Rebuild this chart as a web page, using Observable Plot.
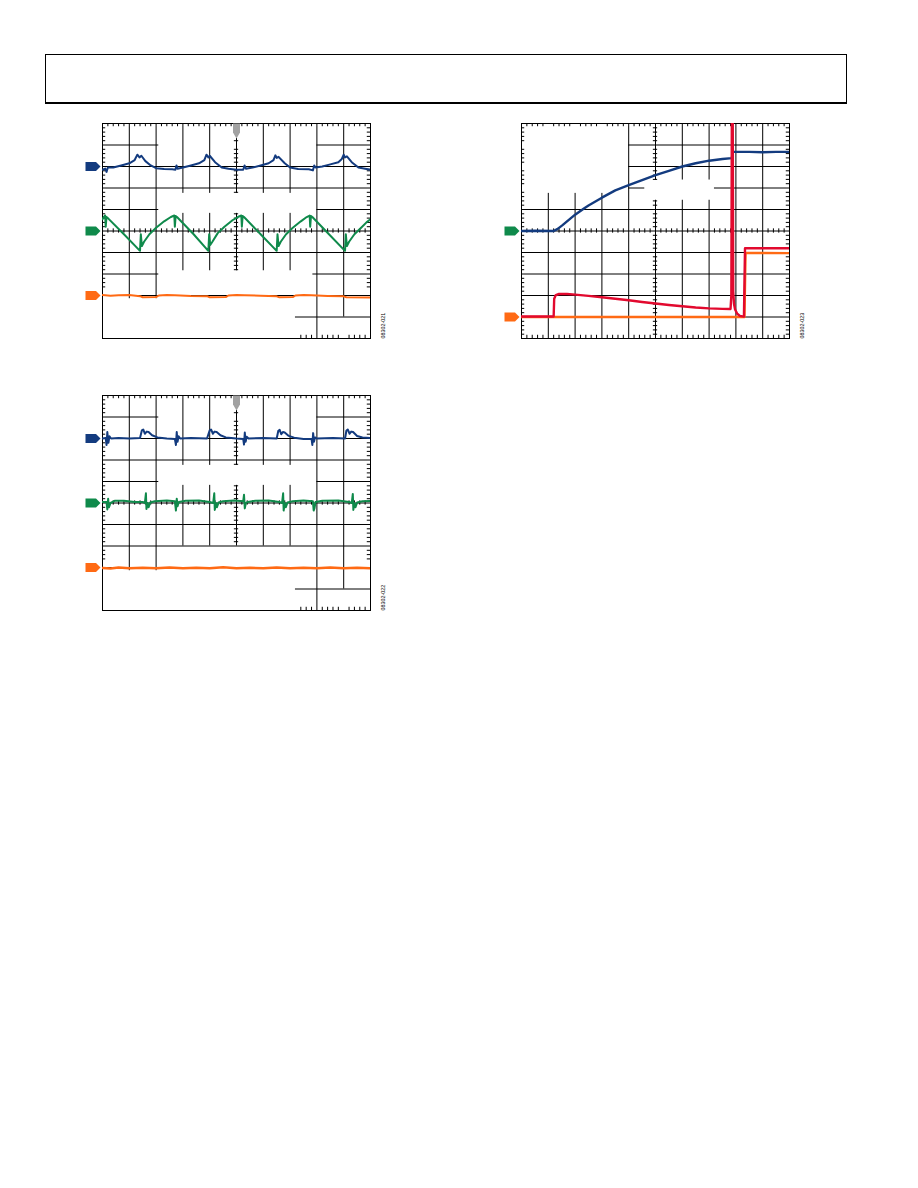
<!DOCTYPE html>
<html><head><meta charset="utf-8">
<script src="https://cdn.jsdelivr.net/npm/d3@7"></script>
<script src="https://cdn.jsdelivr.net/npm/@observablehq/plot@0.6"></script>
<style>
body{margin:0;background:#fff;}
#page{position:relative;width:918px;height:1188px;background:#fff;overflow:hidden;font-family:"Liberation Sans",Arial,sans-serif;}
#hdr{position:absolute;left:45px;top:54px;width:800px;height:47px;border:1px solid #000;border-bottom:2px solid #000;}
.panel{position:absolute;}
</style></head><body>
<div id="page"><div id="hdr"></div>
<div class="panel" id="p1" style="left:80px;top:113px"></div>
<div class="panel" id="p2" style="left:499px;top:113px"></div>
<div class="panel" id="p3" style="left:80px;top:385px"></div>
</div>
<script>
// ---------- data (x, y in scope divisions; y measured from bottom) ----------
const p1Labels = ["08302-021"];
const p2Labels = ["08302-023"];
const p3Labels = ["08302-022"];

const p1Blue = [[0,7.85],[0.1,7.9],[0.15,7.75],[0.2,7.95],[0.4,7.95],[0.7,8.05],[1.0,8.15],[1.2,8.3],[1.3,8.55],[1.38,8.42],[1.45,8.5],[1.6,8.25],[1.8,8.05],[2.0,7.92],[2.3,7.88],[2.6,7.87],[2.72,7.85],[2.76,8.05],[2.8,7.9],[3.0,7.95],[3.3,8.05],[3.6,8.15],[3.8,8.3],[3.88,8.55],[3.95,8.42],[4.0,8.5],[4.2,8.2],[4.45,7.95],[4.7,7.9],[5.0,7.85],[5.25,7.85],[5.3,8.05],[5.35,7.9],[5.6,7.95],[5.9,8.05],[6.2,8.15],[6.38,8.3],[6.45,8.52],[6.5,8.4],[6.57,8.45],[6.8,8.15],[7.0,7.95],[7.3,7.88],[7.7,7.87],[7.85,7.82],[7.9,8.05],[7.95,7.95],[8.2,8.0],[8.5,8.1],[8.8,8.2],[8.93,8.35],[9.0,8.55],[9.05,8.42],[9.12,8.47],[9.3,8.2],[9.55,7.95],[9.8,7.9],[10,7.85]];
const p1Green = [[0,5.55],[0.05,5.65],[0.1,5.72],[0.12,5.2],[0.15,5.65],[0.2,5.6],[0.8,4.85],[1.38,4.1],[1.4,4.08],[1.43,4.85],[1.47,4.3],[1.55,4.5],[1.75,4.85],[2.0,5.15],[2.3,5.45],[2.55,5.65],[2.68,5.72],[2.7,5.2],[2.73,5.7],[2.78,5.65],[3.4,4.85],[3.93,4.1],[3.95,4.08],[3.98,4.85],[4.02,4.35],[4.1,4.5],[4.3,4.9],[4.55,5.2],[4.85,5.5],[5.05,5.65],[5.18,5.72],[5.2,5.2],[5.23,5.7],[5.28,5.65],[5.9,4.85],[6.48,4.1],[6.5,4.08],[6.53,4.85],[6.57,4.3],[6.65,4.5],[6.85,4.85],[7.1,5.15],[7.4,5.45],[7.62,5.65],[7.73,5.72],[7.75,5.2],[7.78,5.7],[7.83,5.65],[8.45,4.85],[9.03,4.1],[9.05,4.08],[9.08,4.85],[9.12,4.3],[9.2,4.5],[9.4,4.85],[9.65,5.15],[9.85,5.4],[10,5.55]];
const p1Orange = [[0,2.02],[0.3,1.99],[0.6,2.01],[1.0,2.02],[1.4,1.97],[1.5,1.92],[2.0,1.93],[2.1,2.0],[2.4,2.02],[2.7,2.01],[3.3,1.98],[3.9,1.97],[4.0,1.92],[4.6,1.93],[4.7,2.0],[5.0,2.02],[5.3,2.01],[5.9,1.99],[6.5,1.96],[6.6,1.92],[7.1,1.93],[7.2,2.0],[7.5,2.02],[7.8,2.01],[8.4,1.98],[9.0,1.96],[9.1,1.92],[10,1.91]];

const p2Blue = [[0,5],[0.5,5.01],[1.2,5],[1.35,5.1],[1.52,5.26],[2.0,5.76],[2.33,6.05],[2.5,6.19],[3.0,6.55],[3.5,6.89],[4.0,7.13],[4.5,7.37],[5.0,7.6],[5.5,7.8],[6.0,8.0],[6.5,8.15],[7.0,8.27],[7.5,8.35],[7.85,8.39],[7.88,8.68],[8.5,8.68],[9.0,8.66],[9.5,8.68],[10,8.68]];
const p2Red = [[0,1.02],[1.2,1.02],[1.22,1.85],[1.28,2.02],[1.4,2.07],[1.7,2.07],[2.0,2.04],[2.5,1.98],[3.0,1.92],[3.5,1.85],[4.0,1.78],[4.5,1.7],[5.0,1.63],[5.5,1.56],[6.0,1.5],[6.5,1.44],[7.0,1.4],[7.5,1.38],[7.8,1.37],[7.83,2.0],[7.85,11],[7.88,11],[7.9,2.2],[7.93,1.6],[7.97,1.35],[8.05,1.15],[8.15,1.05],[8.3,1.02],[8.34,4.2],[9.0,4.2],[10,4.2]];
const p2Orange = [[0,1.0],[2.0,1.0],[4.0,1.0],[6.0,1.0],[8.0,1.0],[8.32,1.0],[8.36,3.98],[9.0,3.98],[10,3.97]];

const p3Blue = [[0,8.0],[0.12,8.02],[0.15,7.7],[0.18,8.3],[0.22,7.8],[0.26,8.1],[0.32,8.0],[0.6,8.02],[1.0,8.0],[1.4,8.02],[1.47,8.38],[1.52,8.42],[1.58,8.22],[1.65,8.32],[1.72,8.3],[1.85,8.15],[2.05,8.05],[2.4,8.0],[2.7,7.98],[2.74,7.7],[2.77,8.3],[2.8,7.85],[2.84,8.1],[2.9,8.0],[3.3,8.02],[3.9,8.0],[4.0,8.38],[4.05,8.42],[4.12,8.22],[4.18,8.32],[4.26,8.3],[4.4,8.15],[4.6,8.05],[5.0,8.0],[5.25,7.98],[5.28,7.72],[5.31,8.28],[5.34,7.85],[5.38,8.08],[5.45,8.0],[6.0,8.02],[6.5,8.0],[6.56,8.36],[6.61,8.4],[6.67,8.2],[6.73,8.3],[6.8,8.28],[6.95,8.12],[7.15,8.04],[7.5,7.98],[7.8,7.98],[7.83,7.7],[7.86,8.25],[7.89,7.85],[7.93,8.05],[8.0,8.0],[8.6,8.02],[9.05,8.0],[9.1,8.36],[9.15,8.42],[9.22,8.22],[9.28,8.32],[9.35,8.3],[9.5,8.12],[9.7,8.05],[10,8.02]];
const p3Green = [[0,5.05],[0.15,5.05],[0.18,4.7],[0.21,5.2],[0.24,4.8],[0.3,5.0],[0.45,5.1],[0.8,5.1],[1.2,5.05],[1.5,5.05],[1.58,5.0],[1.62,5.45],[1.64,4.72],[1.68,5.0],[1.72,4.8],[1.78,5.02],[1.95,5.08],[2.4,5.12],[2.7,5.08],[2.74,4.65],[2.77,5.2],[2.8,4.85],[2.85,5.05],[3.1,5.1],[3.6,5.12],[4.0,5.05],[4.13,5.0],[4.17,5.45],[4.19,4.68],[4.23,5.0],[4.27,4.8],[4.33,5.02],[4.5,5.08],[4.9,5.12],[5.25,5.08],[5.28,5.38],[5.31,4.75],[5.35,5.0],[5.42,5.05],[5.7,5.1],[6.2,5.12],[6.6,5.05],[6.7,5.0],[6.74,5.45],[6.76,4.65],[6.8,5.0],[6.84,4.8],[6.9,5.02],[7.1,5.08],[7.5,5.12],[7.85,5.08],[7.88,4.65],[7.91,4.75],[7.95,5.05],[8.2,5.1],[8.8,5.12],[9.2,5.05],[9.3,5.0],[9.34,5.42],[9.36,4.68],[9.4,5.0],[9.44,4.8],[9.5,5.02],[9.7,5.08],[10,5.1]];
const p3Orange = [[0,1.98],[0.3,1.95],[0.6,2.0],[1.0,1.97],[1.5,1.99],[2.0,1.96],[2.5,2.0],[3.0,1.97],[3.5,1.99],[4.0,1.96],[4.5,2.01],[5.0,1.97],[5.5,1.99],[6.0,1.96],[6.5,2.0],[7.0,1.97],[7.5,1.99],[8.0,1.96],[8.5,2.0],[9.0,1.97],[9.5,1.99],[10,1.97]];

// channel reference markers [level, colour key]
const p1Markers = [[8,"blue"],[5,"green"],[2,"orange"]];
const p2Markers = [[5,"green"],[1,"orange"]];
const p3Markers = [[8,"blue"],[5,"green"],[2,"orange"]];

// graticule segments: horizontal [y, x1, x2], vertical [x, y1, y2]
const p1HGrid = [[9,0,2.1],[9,8,10],[8,0,10],[7,0,10],[6,0,2.1],[6,8,10],[5,0,10],[4,0,10],[3,0,2.1],[3,7.85,10],[2,0,10],[1,7.2,10]];
const p1VGrid = [[1,1.85,10],[2,1.85,10],[3,3.15,5.82],[3,6.75,10],[4,3.15,5.82],[4,6.75,10],[5,3.15,5.82],[5,6.75,9.3],[6,3.15,5.82],[6,6.75,10],[7,3.15,5.82],[7,6.75,10],[8,0,10],[9,1,10]];
const p3HGrid = [[9,0,2.1],[9,8,10],[8,0,10],[7,0,10],[6,0,2.1],[6,8,10],[5,0,10],[4,0,10],[3,0,10],[2,0,10],[1,7.2,10]];
const p3VGrid = [[1,1.85,10],[2,1.85,10],[3,3,5.82],[3,6.75,10],[4,3,5.82],[4,6.75,10],[5,3,5.82],[5,6.75,9.3],[6,3,5.82],[6,6.75,10],[7,3,5.82],[7,6.75,10],[8,0,10],[9,1,10]];
const p2HGrid = [[9,4,10],[8,4,10],[7,4,4.6],[7,7.2,10],[6,0,10],[5,0,10],[4,0,10],[3,0,10],[2,0,10],[1,0,10]];
const p2VGrid = [[1,0,6.75],[2,0,6.75],[3,0,6.75],[4,0,10],[5,0,6.43],[5,7.37,10],[6,0,6.43],[6,7.37,10],[7,0,6.43],[7,7.37,10],[8,0,10],[9,0,10]];

// ---------- drawing ----------
const COL = {blue:"#133b7f", green:"#0f8a4b", orange:"#ff6a14", red:"#e2092e", gray:"#a2a2a2"};
const minor = d3.range(1,50).map(i=>i/5).filter(v=>Math.abs(v-Math.round(v))>1e-6);

const arrowSym = {draw(c){c.moveTo(-17,-4.5);c.lineTo(-6.5,-4.5);c.lineTo(-2,0);c.lineTo(-6.5,4.5);c.lineTo(-17,4.5);c.closePath();}};
const trigSym = {draw(c){c.moveTo(-3.5,0);c.lineTo(3.5,0);c.lineTo(3.5,9);c.lineTo(0,15);c.lineTo(-3.5,9);c.closePath();}};

function scope(cfg){
  const k = "#000";
  const marks = [
    Plot.ruleY(cfg.hGrid,{y:d=>d[0],x1:d=>d[1],x2:d=>d[2],stroke:k}),
    Plot.ruleX(cfg.vGrid,{x:d=>d[0],y1:d=>d[1],y2:d=>d[2],stroke:k}),
    Plot.ruleX(minor.filter(cfg.top),{x:d=>d,y1:10,y2:9.85,stroke:k}),
    Plot.ruleX(minor.filter(cfg.bottom),{x:d=>d,y1:0,y2:0.15,stroke:k}),
    Plot.ruleY(minor.filter(cfg.left),{y:d=>d,x1:0,x2:0.12,stroke:k}),
    Plot.ruleY(minor.filter(cfg.right),{y:d=>d,x1:10,x2:9.88,stroke:k}),
    Plot.ruleX(minor,{x:d=>d,y1:4.9,y2:5.1,stroke:k}),
    Plot.ruleY(minor.filter(cfg.centerV),{y:d=>d,x1:4.92,x2:5.08,stroke:k}),
    Plot.frame({stroke:k})
  ];
  for (const t of cfg.traces) {
    marks.push(Plot.line(t.data,{x:d=>d[0],y:d=>d[1],stroke:COL[t.color],strokeWidth:t.width||2,clip:true,strokeLinejoin:"round"}));
  }
  for (const m of cfg.markers) {
    marks.push(Plot.dot([m],{x:0,y:d=>d[0],fill:COL[m[1]],symbol:arrowSym,r:5}));
  }
  if (cfg.trigger) marks.push(Plot.dot([5],{x:d=>d,y:10,fill:COL.gray,symbol:trigSym,r:5}));
  marks.push(Plot.text(cfg.label,{x:10,y:0,text:d=>d,rotate:-90,textAnchor:"start",dx:13,fontSize:5.4,fill:"#000",fontFamily:"Liberation Sans, Arial, sans-serif"}));
  return Plot.plot({
    width:310,height:240,marginLeft:22,marginRight:20,marginTop:10,marginBottom:15,
    x:{domain:[0,10],axis:null},y:{domain:[0,10],axis:null},
    style:{background:"transparent",overflow:"visible"},
    marks
  });
}

const all = ()=>true;
document.getElementById("p1").append(scope({
  hGrid:p1HGrid, vGrid:p1VGrid, top:all, bottom:v=>v>7.2, left:v=>v>2.2, right:v=>v>2.2,
  centerV:v=>(v>3.15&&v<5.82)||(v>6.75&&v<9.3),
  traces:[{data:p1Blue,color:"blue"},{data:p1Green,color:"green"},{data:p1Orange,color:"orange"}],
  markers:p1Markers, trigger:true, label:p1Labels
}));
document.getElementById("p2").append(scope({
  hGrid:p2HGrid, vGrid:p2VGrid, top:all, bottom:all, left:all, right:all,
  centerV:v=>(v<6.43)||(v>7.37),
  traces:[{data:p2Orange,color:"orange",width:2.4},{data:p2Blue,color:"blue",width:2.4},{data:p2Red,color:"red",width:2.4}],
  markers:p2Markers, trigger:false, label:p2Labels
}));
document.getElementById("p3").append(scope({
  hGrid:p3HGrid, vGrid:p3VGrid, top:all, bottom:v=>v>7.2, left:v=>v>2.2, right:v=>v>2.2,
  centerV:v=>(v>3&&v<5.82)||(v>6.75&&v<9.3),
  traces:[{data:p3Blue,color:"blue"},{data:p3Green,color:"green"},{data:p3Orange,color:"orange",width:2.5}],
  markers:p3Markers, trigger:true, label:p3Labels
}));
</script>
</body></html>
